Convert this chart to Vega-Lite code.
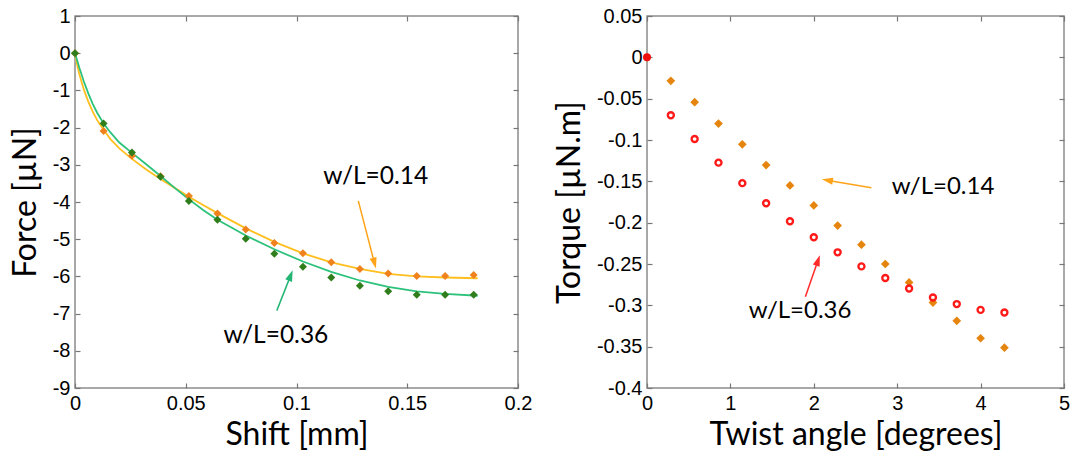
{
  "$schema": "https://vega.github.io/schema/vega-lite/v6.json",
  "background": "white",
  "padding": {"left": 8, "top": 5, "right": 0, "bottom": 0},
  "spacing": 19,
  "config": {
    "view": {"stroke": "#8c8c8c", "strokeWidth": 1.5},
    "axis": {
      "domain": false, "grid": false, "ticks": true, "tickSize": -5, "tickColor": "#777777", "tickWidth": 1.2,
      "labelFont": "Liberation Sans", "labelFontSize": 20, "labelColor": "#000000", "labelPadding": 10,
      "labelFlush": false, "labelOverlap": false, "labelBound": false,
      "titleFont": "Lato", "titleFontSize": 32, "titleFontWeight": "normal", "titleColor": "#000000"
    },
    "axisX": {"titlePadding": 6},
    "axisY": {"titlePadding": 10},
    "text": {"font": "Lato"}
  },
  "datasets": {
    "leftPts": [
      {"shift": 0, "force": 0, "series": "w/L=0.14"},
      {"shift": 0.0129, "force": -2.09, "series": "w/L=0.14"},
      {"shift": 0.0257, "force": -2.76, "series": "w/L=0.14"},
      {"shift": 0.0386, "force": -3.31, "series": "w/L=0.14"},
      {"shift": 0.0514, "force": -3.84, "series": "w/L=0.14"},
      {"shift": 0.0643, "force": -4.31, "series": "w/L=0.14"},
      {"shift": 0.0771, "force": -4.74, "series": "w/L=0.14"},
      {"shift": 0.09, "force": -5.10, "series": "w/L=0.14"},
      {"shift": 0.1029, "force": -5.38, "series": "w/L=0.14"},
      {"shift": 0.1157, "force": -5.62, "series": "w/L=0.14"},
      {"shift": 0.1286, "force": -5.80, "series": "w/L=0.14"},
      {"shift": 0.1414, "force": -5.92, "series": "w/L=0.14"},
      {"shift": 0.1543, "force": -5.99, "series": "w/L=0.14"},
      {"shift": 0.1671, "force": -5.99, "series": "w/L=0.14"},
      {"shift": 0.18, "force": -5.96, "series": "w/L=0.14"},
      {"shift": 0, "force": 0, "series": "w/L=0.36"},
      {"shift": 0.0129, "force": -1.89, "series": "w/L=0.36"},
      {"shift": 0.0257, "force": -2.67, "series": "w/L=0.36"},
      {"shift": 0.0386, "force": -3.32, "series": "w/L=0.36"},
      {"shift": 0.0514, "force": -3.97, "series": "w/L=0.36"},
      {"shift": 0.0643, "force": -4.48, "series": "w/L=0.36"},
      {"shift": 0.0771, "force": -4.99, "series": "w/L=0.36"},
      {"shift": 0.09, "force": -5.39, "series": "w/L=0.36"},
      {"shift": 0.1029, "force": -5.74, "series": "w/L=0.36"},
      {"shift": 0.1157, "force": -6.03, "series": "w/L=0.36"},
      {"shift": 0.1286, "force": -6.25, "series": "w/L=0.36"},
      {"shift": 0.1414, "force": -6.40, "series": "w/L=0.36"},
      {"shift": 0.1543, "force": -6.49, "series": "w/L=0.36"},
      {"shift": 0.1671, "force": -6.49, "series": "w/L=0.36"},
      {"shift": 0.18, "force": -6.49, "series": "w/L=0.36"}
    ],
    "leftCurve": [
      {"shift": 0, "force": 0, "series": "w/L=0.14"},
      {"shift": 0.001, "force": -0.32, "series": "w/L=0.14"},
      {"shift": 0.002, "force": -0.57, "series": "w/L=0.14"},
      {"shift": 0.004, "force": -0.98, "series": "w/L=0.14"},
      {"shift": 0.006, "force": -1.30, "series": "w/L=0.14"},
      {"shift": 0.008, "force": -1.57, "series": "w/L=0.14"},
      {"shift": 0.010, "force": -1.80, "series": "w/L=0.14"},
      {"shift": 0.0129, "force": -2.06, "series": "w/L=0.14"},
      {"shift": 0.016, "force": -2.31, "series": "w/L=0.14"},
      {"shift": 0.020, "force": -2.56, "series": "w/L=0.14"},
      {"shift": 0.0257, "force": -2.84, "series": "w/L=0.14"},
      {"shift": 0.032, "force": -3.12, "series": "w/L=0.14"},
      {"shift": 0.0386, "force": -3.38, "series": "w/L=0.14"},
      {"shift": 0.045, "force": -3.62, "series": "w/L=0.14"},
      {"shift": 0.0514, "force": -3.86, "series": "w/L=0.14"},
      {"shift": 0.058, "force": -4.09, "series": "w/L=0.14"},
      {"shift": 0.0643, "force": -4.30, "series": "w/L=0.14"},
      {"shift": 0.0771, "force": -4.71, "series": "w/L=0.14"},
      {"shift": 0.09, "force": -5.07, "series": "w/L=0.14"},
      {"shift": 0.1029, "force": -5.38, "series": "w/L=0.14"},
      {"shift": 0.1157, "force": -5.62, "series": "w/L=0.14"},
      {"shift": 0.1286, "force": -5.80, "series": "w/L=0.14"},
      {"shift": 0.1414, "force": -5.93, "series": "w/L=0.14"},
      {"shift": 0.1543, "force": -6.00, "series": "w/L=0.14"},
      {"shift": 0.1671, "force": -6.03, "series": "w/L=0.14"},
      {"shift": 0.1818, "force": -6.05, "series": "w/L=0.14"},
      {"shift": 0, "force": 0, "series": "w/L=0.36"},
      {"shift": 0.002, "force": -0.40, "series": "w/L=0.36"},
      {"shift": 0.004, "force": -0.76, "series": "w/L=0.36"},
      {"shift": 0.006, "force": -1.08, "series": "w/L=0.36"},
      {"shift": 0.008, "force": -1.36, "series": "w/L=0.36"},
      {"shift": 0.010, "force": -1.60, "series": "w/L=0.36"},
      {"shift": 0.0129, "force": -1.89, "series": "w/L=0.36"},
      {"shift": 0.016, "force": -2.13, "series": "w/L=0.36"},
      {"shift": 0.020, "force": -2.40, "series": "w/L=0.36"},
      {"shift": 0.0257, "force": -2.68, "series": "w/L=0.36"},
      {"shift": 0.032, "force": -2.98, "series": "w/L=0.36"},
      {"shift": 0.0386, "force": -3.30, "series": "w/L=0.36"},
      {"shift": 0.045, "force": -3.62, "series": "w/L=0.36"},
      {"shift": 0.0514, "force": -3.93, "series": "w/L=0.36"},
      {"shift": 0.058, "force": -4.22, "series": "w/L=0.36"},
      {"shift": 0.0643, "force": -4.48, "series": "w/L=0.36"},
      {"shift": 0.0771, "force": -4.90, "series": "w/L=0.36"},
      {"shift": 0.09, "force": -5.27, "series": "w/L=0.36"},
      {"shift": 0.1029, "force": -5.60, "series": "w/L=0.36"},
      {"shift": 0.1157, "force": -5.88, "series": "w/L=0.36"},
      {"shift": 0.1286, "force": -6.11, "series": "w/L=0.36"},
      {"shift": 0.1414, "force": -6.28, "series": "w/L=0.36"},
      {"shift": 0.1543, "force": -6.40, "series": "w/L=0.36"},
      {"shift": 0.1671, "force": -6.47, "series": "w/L=0.36"},
      {"shift": 0.1818, "force": -6.52, "series": "w/L=0.36"}
    ],
    "leftArrows": [
      {"x": 0.1279, "y": -3.97, "x2": 0.1351, "y2": -5.62, "series": "w/L=0.14"},
      {"x": 0.0911, "y": -6.92, "x2": 0.0972, "y2": -6.0, "series": "w/L=0.36"}
    ],
    "leftLabels": [
      {"x": 0.1358, "y": -3.34, "label": "w/L=0.14"},
      {"x": 0.0907, "y": -7.59, "label": "w/L=0.36"}
    ],
    "rightPts": [
      {"angle": 0, "torque": 0, "series": "w/L=0.14"},
      {"angle": 0.2857, "torque": -0.0284, "series": "w/L=0.14"},
      {"angle": 0.5714, "torque": -0.0542, "series": "w/L=0.14"},
      {"angle": 0.8571, "torque": -0.0801, "series": "w/L=0.14"},
      {"angle": 1.1429, "torque": -0.1052, "series": "w/L=0.14"},
      {"angle": 1.4286, "torque": -0.1303, "series": "w/L=0.14"},
      {"angle": 1.7143, "torque": -0.155, "series": "w/L=0.14"},
      {"angle": 2.0, "torque": -0.1792, "series": "w/L=0.14"},
      {"angle": 2.2857, "torque": -0.2035, "series": "w/L=0.14"},
      {"angle": 2.5714, "torque": -0.2266, "series": "w/L=0.14"},
      {"angle": 2.8571, "torque": -0.25, "series": "w/L=0.14"},
      {"angle": 3.1429, "torque": -0.2723, "series": "w/L=0.14"},
      {"angle": 3.4286, "torque": -0.2966, "series": "w/L=0.14"},
      {"angle": 3.7143, "torque": -0.3188, "series": "w/L=0.14"},
      {"angle": 4.0, "torque": -0.3398, "series": "w/L=0.14"},
      {"angle": 4.2857, "torque": -0.3512, "series": "w/L=0.14"},
      {"angle": 0.2857, "torque": -0.070, "series": "w/L=0.36"},
      {"angle": 0.5714, "torque": -0.0988, "series": "w/L=0.36"},
      {"angle": 0.8571, "torque": -0.1274, "series": "w/L=0.36"},
      {"angle": 1.1429, "torque": -0.1522, "series": "w/L=0.36"},
      {"angle": 1.4286, "torque": -0.1765, "series": "w/L=0.36"},
      {"angle": 1.7143, "torque": -0.1983, "series": "w/L=0.36"},
      {"angle": 2.0, "torque": -0.2177, "series": "w/L=0.36"},
      {"angle": 2.2857, "torque": -0.2359, "series": "w/L=0.36"},
      {"angle": 2.5714, "torque": -0.2529, "series": "w/L=0.36"},
      {"angle": 2.8571, "torque": -0.267, "series": "w/L=0.36"},
      {"angle": 3.1429, "torque": -0.2796, "series": "w/L=0.36"},
      {"angle": 3.4286, "torque": -0.2905, "series": "w/L=0.36"},
      {"angle": 3.7143, "torque": -0.2985, "series": "w/L=0.36"},
      {"angle": 4.0, "torque": -0.3055, "series": "w/L=0.36"},
      {"angle": 4.2857, "torque": -0.3087, "series": "w/L=0.36"}
    ],
    "rightOrigin": [{"angle": 0, "torque": 0}],
    "rightArrows": [
      {"x": 2.69, "y": -0.1578, "x2": 2.174, "y2": -0.1489, "series": "w/L=0.14"},
      {"x": 1.899, "y": -0.2897, "x2": 2.047, "y2": -0.2468, "series": "w/L=0.36"}
    ],
    "rightLabels": [
      {"x": 3.549, "y": -0.157, "label": "w/L=0.14"},
      {"x": 1.835, "y": -0.3067, "label": "w/L=0.36"}
    ]
  },
  "hconcat": [
    {
      "width": 443,
      "height": 372,
      "layer": [
        {
          "mark": {"type": "rule", "strokeDash": [6, 5], "color": "#9a9a9a", "strokeWidth": 1.5},
          "encoding": {"y": {"datum": 0, "type": "quantitative", "scale": {"domain": [-9, 1], "nice": false, "zero": false}, "axis": null}}
        },
        {
          "data": {"name": "leftCurve"},
          "mark": {"type": "line", "strokeWidth": 1.8},
          "encoding": {
            "x": {"field": "shift", "type": "quantitative", "scale": {"domain": [0, 0.2], "nice": false, "zero": false}, "axis": null},
            "y": {"field": "force", "type": "quantitative", "scale": {"domain": [-9, 1], "nice": false, "zero": false}, "axis": null},
            "color": {"field": "series", "type": "nominal", "scale": {"domain": ["w/L=0.14", "w/L=0.36"], "range": ["#FFBF1F", "#2DC27B"]}, "legend": null}
          }
        },
        {
          "data": {"name": "leftPts"},
          "mark": {"type": "point", "shape": "diamond", "filled": true, "size": 64, "opacity": 1},
          "encoding": {
            "x": {"field": "shift", "type": "quantitative", "scale": {"domain": [0, 0.2], "nice": false, "zero": false}, "axis": {"orient": "bottom", "title": "Shift [mm]", "values": [0, 0.05, 0.1, 0.15, 0.2], "labelExpr": "'' + datum.value"}},
            "y": {"field": "force", "type": "quantitative", "scale": {"domain": [-9, 1], "nice": false, "zero": false}, "axis": {"orient": "left", "title": "Force [µN]", "values": [-9, -8, -7, -6, -5, -4, -3, -2, -1, 0, 1], "labelExpr": "'' + datum.value"}},
            "color": {"field": "series", "type": "nominal", "scale": {"domain": ["w/L=0.14", "w/L=0.36"], "range": ["#F0821E", "#2F7D1B"]}, "legend": null}
          }
        },
        {
          "data": {"name": "leftArrows"},
          "mark": {"type": "rule", "strokeWidth": 1.5},
          "encoding": {
            "x": {"field": "x", "type": "quantitative", "scale": {"domain": [0, 0.2], "nice": false, "zero": false}, "axis": null},
            "y": {"field": "y", "type": "quantitative", "scale": {"domain": [-9, 1], "nice": false, "zero": false}, "axis": null},
            "x2": {"field": "x2"},
            "y2": {"field": "y2"},
            "color": {"field": "series", "type": "nominal", "scale": {"domain": ["w/L=0.14", "w/L=0.36"], "range": ["#FFA31A", "#22B573"]}, "legend": null}
          }
        },
        {
          "data": {"name": "leftArrows"},
          "transform": [{"filter": "datum.series == 'w/L=0.14'"}],
          "mark": {"type": "point", "shape": "M0,-1L0.55,0.7L-0.55,0.7Z", "filled": true, "size": 170, "opacity": 1, "angle": 165, "color": "#FFA31A"},
          "encoding": {
            "x": {"field": "x2", "type": "quantitative", "scale": {"domain": [0, 0.2], "nice": false, "zero": false}, "axis": null},
            "y": {"field": "y2", "type": "quantitative", "scale": {"domain": [-9, 1], "nice": false, "zero": false}, "axis": null}
          }
        },
        {
          "data": {"name": "leftArrows"},
          "transform": [{"filter": "datum.series == 'w/L=0.36'"}],
          "mark": {"type": "point", "shape": "M0,-1L0.55,0.7L-0.55,0.7Z", "filled": true, "size": 170, "opacity": 1, "angle": 21, "color": "#22B573"},
          "encoding": {
            "x": {"field": "x2", "type": "quantitative", "scale": {"domain": [0, 0.2], "nice": false, "zero": false}, "axis": null},
            "y": {"field": "y2", "type": "quantitative", "scale": {"domain": [-9, 1], "nice": false, "zero": false}, "axis": null}
          }
        },
        {
          "data": {"name": "leftLabels"},
          "mark": {"type": "text", "font": "Lato", "fontSize": 24.5, "align": "center", "baseline": "middle", "color": "#000000"},
          "encoding": {
            "x": {"field": "x", "type": "quantitative", "scale": {"domain": [0, 0.2], "nice": false, "zero": false}, "axis": null},
            "y": {"field": "y", "type": "quantitative", "scale": {"domain": [-9, 1], "nice": false, "zero": false}, "axis": null},
            "text": {"field": "label"}
          }
        },
        {
          "data": {"name": "leftPts"},
          "mark": {"type": "point", "opacity": 0},
          "encoding": {
            "x": {"field": "shift", "type": "quantitative", "scale": {"domain": [0, 0.2], "nice": false, "zero": false}, "axis": {"orient": "top", "title": null, "labels": false, "values": [0, 0.05, 0.1, 0.15, 0.2]}},
            "y": {"field": "force", "type": "quantitative", "scale": {"domain": [-9, 1], "nice": false, "zero": false}, "axis": {"orient": "right", "title": null, "labels": false, "values": [-9, -8, -7, -6, -5, -4, -3, -2, -1, 0, 1]}}
          }
        }
      ],
      "resolve": {"scale": {"color": "independent"}, "axis": {"x": "independent", "y": "independent"}}
    },
    {
      "width": 417,
      "height": 372,
      "layer": [
        {
          "mark": {"type": "rule", "strokeDash": [6, 5], "color": "#9a9a9a", "strokeWidth": 1.5},
          "encoding": {"y": {"datum": 0, "type": "quantitative", "scale": {"domain": [-0.4, 0.05], "nice": false, "zero": false}, "axis": null}}
        },
        {
          "data": {"name": "rightPts"},
          "transform": [{"filter": "datum.series == 'w/L=0.14'"}],
          "mark": {"type": "point", "shape": "diamond", "filled": true, "size": 76, "opacity": 1, "color": "#E6850E"},
          "encoding": {
            "x": {"field": "angle", "type": "quantitative", "scale": {"domain": [0, 5], "nice": false, "zero": false}, "axis": {"orient": "bottom", "title": "Twist angle [degrees]", "values": [0, 1, 2, 3, 4, 5], "labelExpr": "'' + datum.value"}},
            "y": {"field": "torque", "type": "quantitative", "scale": {"domain": [-0.4, 0.05], "nice": false, "zero": false}, "axis": {"orient": "left", "title": "Torque [µN.m]", "values": [-0.4, -0.35, -0.3, -0.25, -0.2, -0.15, -0.1, -0.05, 0, 0.05], "labelExpr": "'' + datum.value"}}
          }
        },
        {
          "data": {"name": "rightPts"},
          "transform": [{"filter": "datum.series == 'w/L=0.36'"}],
          "mark": {"type": "point", "shape": "circle", "filled": false, "size": 36, "strokeWidth": 2.4, "opacity": 1, "color": "#FF1A1A"},
          "encoding": {
            "x": {"field": "angle", "type": "quantitative", "scale": {"domain": [0, 5], "nice": false, "zero": false}, "axis": null},
            "y": {"field": "torque", "type": "quantitative", "scale": {"domain": [-0.4, 0.05], "nice": false, "zero": false}, "axis": null}
          }
        },
        {
          "data": {"name": "rightOrigin"},
          "mark": {"type": "point", "shape": "circle", "filled": true, "size": 64, "opacity": 1, "color": "#F01010"},
          "encoding": {
            "x": {"field": "angle", "type": "quantitative", "scale": {"domain": [0, 5], "nice": false, "zero": false}, "axis": null},
            "y": {"field": "torque", "type": "quantitative", "scale": {"domain": [-0.4, 0.05], "nice": false, "zero": false}, "axis": null}
          }
        },
        {
          "data": {"name": "rightArrows"},
          "mark": {"type": "rule", "strokeWidth": 1.5},
          "encoding": {
            "x": {"field": "x", "type": "quantitative", "scale": {"domain": [0, 5], "nice": false, "zero": false}, "axis": null},
            "y": {"field": "y", "type": "quantitative", "scale": {"domain": [-0.4, 0.05], "nice": false, "zero": false}, "axis": null},
            "x2": {"field": "x2"},
            "y2": {"field": "y2"},
            "color": {"field": "series", "type": "nominal", "scale": {"domain": ["w/L=0.14", "w/L=0.36"], "range": ["#FFA31A", "#FF2A2A"]}, "legend": null}
          }
        },
        {
          "data": {"name": "rightArrows"},
          "transform": [{"filter": "datum.series == 'w/L=0.14'"}],
          "mark": {"type": "point", "shape": "M0,-1L0.55,0.7L-0.55,0.7Z", "filled": true, "size": 170, "opacity": 1, "angle": 280, "color": "#FFA31A"},
          "encoding": {
            "x": {"field": "x2", "type": "quantitative", "scale": {"domain": [0, 5], "nice": false, "zero": false}, "axis": null},
            "y": {"field": "y2", "type": "quantitative", "scale": {"domain": [-0.4, 0.05], "nice": false, "zero": false}, "axis": null}
          }
        },
        {
          "data": {"name": "rightArrows"},
          "transform": [{"filter": "datum.series == 'w/L=0.36'"}],
          "mark": {"type": "point", "shape": "M0,-1L0.55,0.7L-0.55,0.7Z", "filled": true, "size": 170, "opacity": 1, "angle": 19, "color": "#FF2A2A"},
          "encoding": {
            "x": {"field": "x2", "type": "quantitative", "scale": {"domain": [0, 5], "nice": false, "zero": false}, "axis": null},
            "y": {"field": "y2", "type": "quantitative", "scale": {"domain": [-0.4, 0.05], "nice": false, "zero": false}, "axis": null}
          }
        },
        {
          "data": {"name": "rightLabels"},
          "mark": {"type": "text", "font": "Lato", "fontSize": 24, "align": "center", "baseline": "middle", "color": "#000000"},
          "encoding": {
            "x": {"field": "x", "type": "quantitative", "scale": {"domain": [0, 5], "nice": false, "zero": false}, "axis": null},
            "y": {"field": "y", "type": "quantitative", "scale": {"domain": [-0.4, 0.05], "nice": false, "zero": false}, "axis": null},
            "text": {"field": "label"}
          }
        },
        {
          "data": {"name": "rightPts"},
          "mark": {"type": "point", "opacity": 0},
          "encoding": {
            "x": {"field": "angle", "type": "quantitative", "scale": {"domain": [0, 5], "nice": false, "zero": false}, "axis": {"orient": "top", "title": null, "labels": false, "values": [0, 1, 2, 3, 4, 5]}},
            "y": {"field": "torque", "type": "quantitative", "scale": {"domain": [-0.4, 0.05], "nice": false, "zero": false}, "axis": {"orient": "right", "title": null, "labels": false, "values": [-0.4, -0.35, -0.3, -0.25, -0.2, -0.15, -0.1, -0.05, 0, 0.05]}}
          }
        }
      ],
      "resolve": {"scale": {"color": "independent"}, "axis": {"x": "independent", "y": "independent"}}
    }
  ]
}
